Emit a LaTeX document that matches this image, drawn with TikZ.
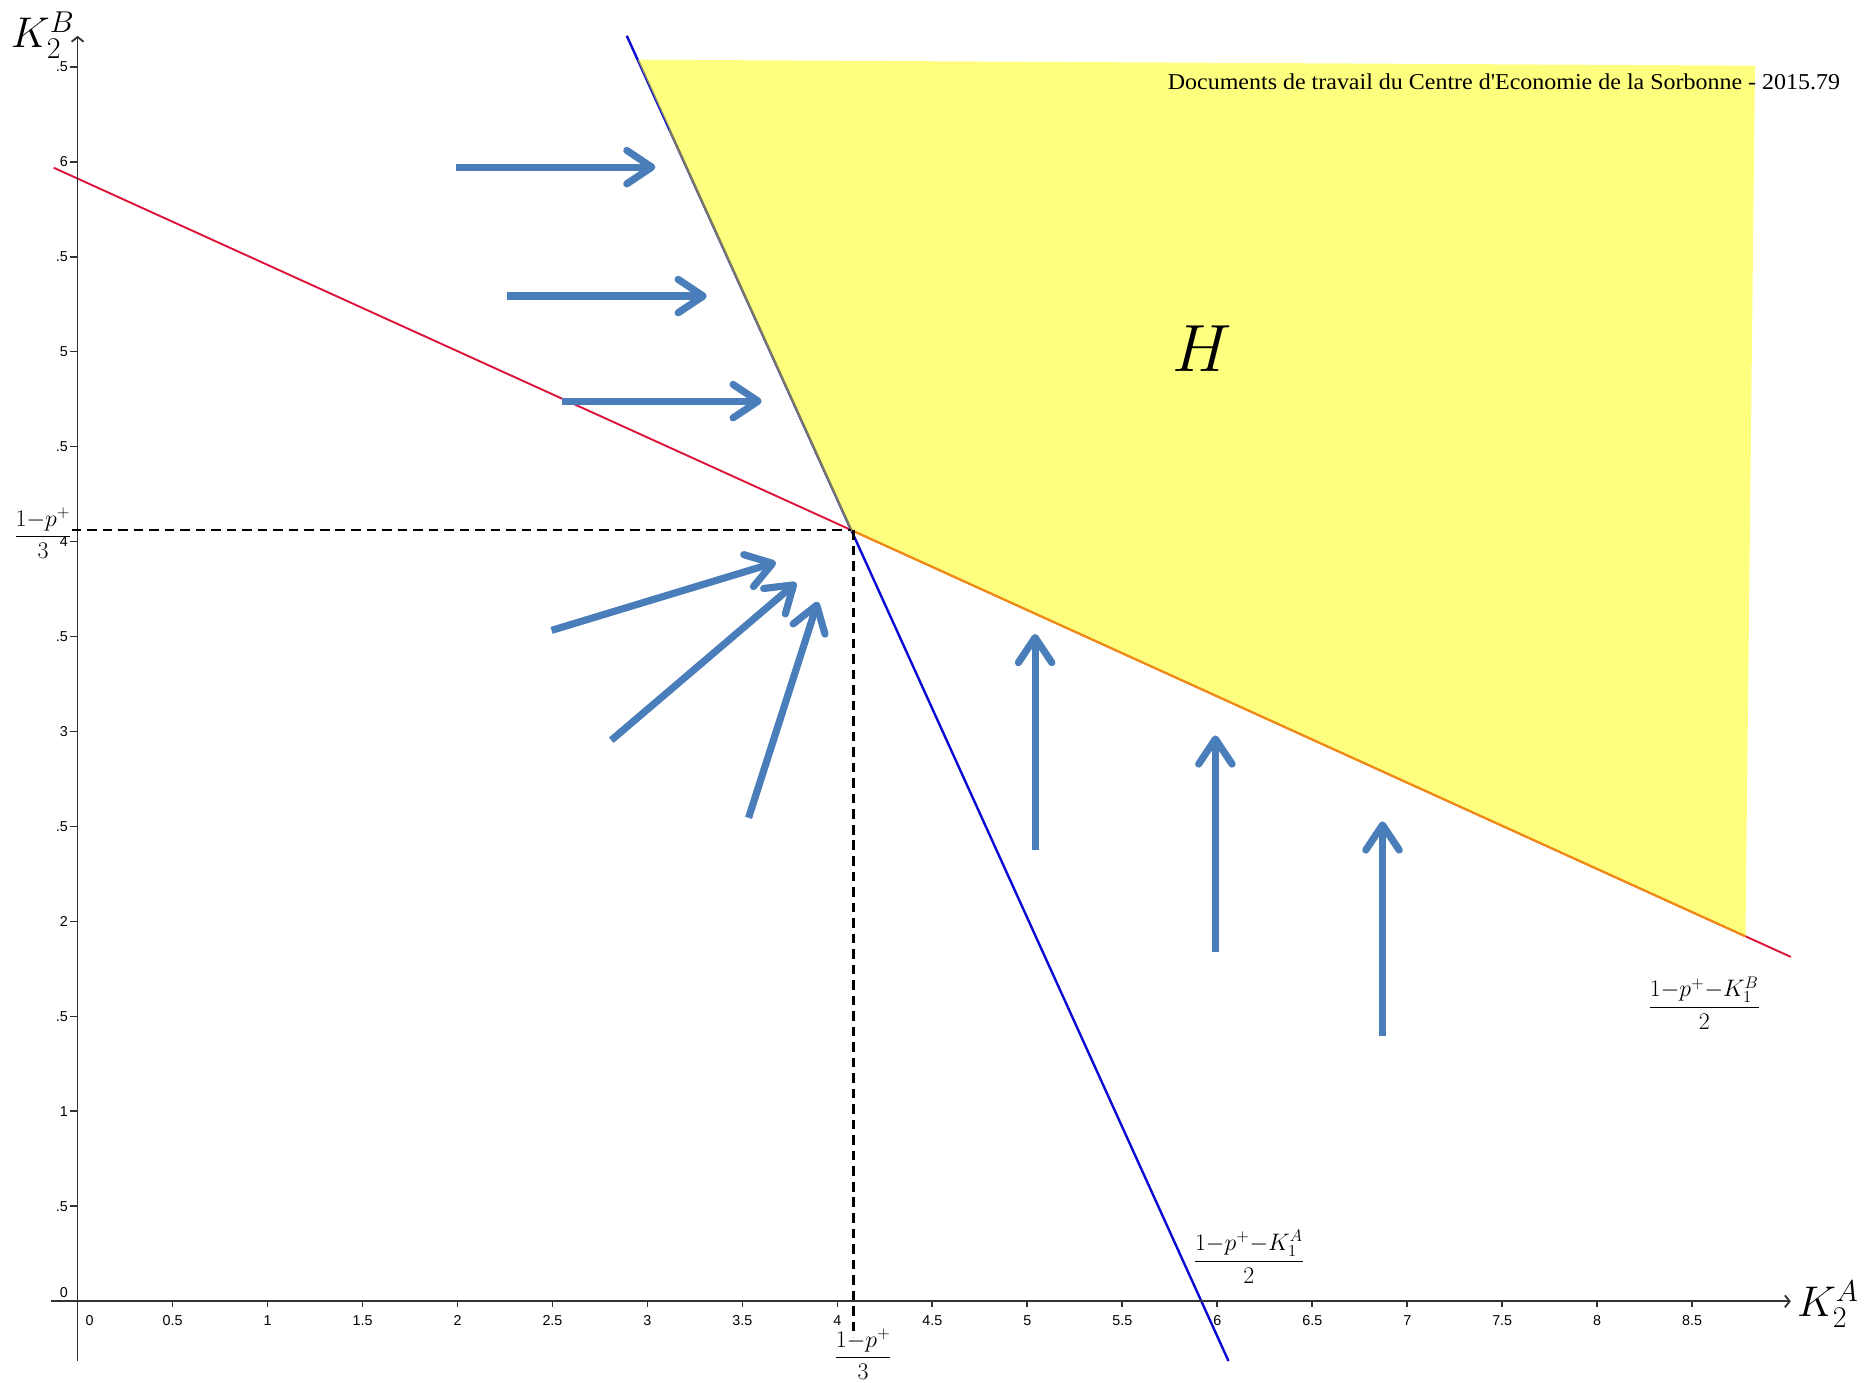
\RequirePackage{fix-cm}
\documentclass[tikz,border=0pt]{standalone}
\usepackage{fontspec}
\usepackage{graphicx}
\newfontfamily\ticksfont{Liberation Sans}
\newfontfamily\titlefont{Liberation Serif}
\usetikzlibrary{arrows.meta,calc}
\definecolor{redline}{RGB}{220,20,60}
\definecolor{blueline}{RGB}{10,10,210}
\definecolor{orangeline}{RGB}{240,140,20}
\definecolor{edgegray}{RGB}{120,120,100}
\definecolor{flowblue}{RGB}{74,126,187}
\definecolor{axisgray}{RGB}{50,50,50}
\definecolor{hyellow}{RGB}{255,255,0}
\begin{document}
\begin{tikzpicture}[x=1pt,y=-1pt,
  axisline/.style={draw=axisgray,line width=1.5pt},
  tickx/.style={font=\ticksfont\fontsize{12}{14}\selectfont,anchor=base,inner sep=0pt},
  ticky/.style={font=\ticksfont\fontsize{12}{14}\selectfont,anchor=base east,inner sep=0pt},
  flow/.style={draw=flowblue,line width=6pt,-{Straight Barb[length=21pt,width=28pt,round]}},
  mathlbl/.style={font=\fontsize{20}{24}\selectfont,inner sep=0pt,anchor=base},
  guide/.style={draw=black,line width=2pt,dash pattern=on 8pt off 5pt}]
\useasboundingbox[fill=white] (0,0) rectangle (1568,1158);

% key points
\coordinate (P) at (713,444);
\coordinate (blueTop) at (525,30);
\coordinate (blueBot) at (1029,1140);
\coordinate (redL) at (45,140.5);
\coordinate (redR) at (1500,801.5);
\coordinate (hTL) at (534,50);
\coordinate (hTR) at (1470,55);
\coordinate (hBR) at (1462,784.3);

% lines
\draw[redline,line width=1.6pt] (redL) -- (redR);
\draw[blueline,line width=2pt] (blueTop) -- (blueBot);

% region H
\fill[hyellow,fill opacity=0.5] (hTL) -- (hTR) -- (hBR) -- (P) -- cycle;
\draw[orangeline,line width=1.8pt] (P) -- (hBR);
\coordinate (eS) at ($(hTL)!0.15!(P)$);
\draw[edgegray,line width=1.6pt] (eS) -- (P);

% axes
\coordinate (yB) at (65,1140);
\coordinate (yT) at (65,30);
\coordinate (xL) at (43,1090);
\coordinate (xR) at (1500,1090);
\draw[axisline,-{Straight Barb[length=4pt,width=10pt]}] (yB) -- (yT);
\draw[axisline,-{Straight Barb[length=4pt,width=10pt]}] (xL) -- (xR);

\foreach \v/\t [count=\i] in {0.5/0.5,1/1,1.5/1.5,2/2,2.5/2.5,3/3,3.5/3.5,4/4,4.5/4.5,5/5,5.5/5.5,6/6,6.5/6.5,7/7,7.5/7.5,8/8,8.5/8.5} {
  \draw[axisline] (65+\v*159.1,1090) -- ++(0,5);
  \node[tickx] (xl\i) at (65+\v*159.1,1110) {\t};
}
\node[tickx] (xl0) at (75,1110) {0};

\foreach \v/\t [count=\i] in {0.5/.5,1/1,1.5/.5,2/2,2.5/.5,3/3,3.5/.5,4/4,4.5/.5,5/5,5.5/.5,6/6,6.5/.5} {
  \draw[axisline] (59,1090-\v*159.1) -- (65,1090-\v*159.1);
  \node[ticky] (yl\i) at (57,1094.3-\v*159.1) {\t};
}
\node[ticky] (yl0) at (57,1087) {0};

% dashed guides
\coordinate (gL) at (60,444);
\coordinate (gT) at (715,444);
\coordinate (gB) at (715,1120);
\draw[guide] (gL) -- (P);
\draw[guide] (gT) -- (gB);

% flow arrows
\foreach \n/\sx/\sy/\tx/\ty in {1/382/140/549/140, 2/425/248/592/248, 3/471/336/638/336,
  4/462/528/650/471, 5/512/620/667/488, 6/627/685/685/504,
  7/867/712/867/531, 8/1018/797/1018/616, 9/1158/868/1158/688} {
  \coordinate (s\n) at (\sx,\sy);
  \coordinate (t\n) at (\tx,\ty);
  \draw[flow] (s\n) -- (t\n);
}

% labels
\node[inner sep=0pt,anchor=base west,font=\fontsize{36}{40}\selectfont] (kb) at (9,40) {$K_2^B$};
\node[inner sep=0pt,anchor=base west,font=\fontsize{36}{40}\selectfont] (ka) at (1505,1103) {$K_2^A$};
\node[inner sep=0pt,anchor=base,font=\fontsize{56}{60}\selectfont] (H) at (1007,311) {$H$};
\node[mathlbl] (fl) at (36,454.5) {$\displaystyle\frac{1{-}p^{+}}{3}$};
\node[mathlbl] (fb) at (723,1142) {$\displaystyle\frac{1{-}p^{+}}{3}$};
\node[mathlbl] (fa) at (1046,1061) {$\displaystyle\frac{1{-}p^{+}{-}K_1^A}{2}$};
\node[mathlbl] (fbb) at (1427.5,848.5) {$\displaystyle\frac{1{-}p^{+}{-}K_1^B}{2}$};
\node[inner sep=0pt,anchor=base west,font=\titlefont\fontsize{19}{22}\selectfont] (title) at (978,75)
  {\resizebox{563pt}{\height}{Documents de travail du Centre d'Economie de la Sorbonne - 2015.79}};
\end{tikzpicture}
\end{document}
